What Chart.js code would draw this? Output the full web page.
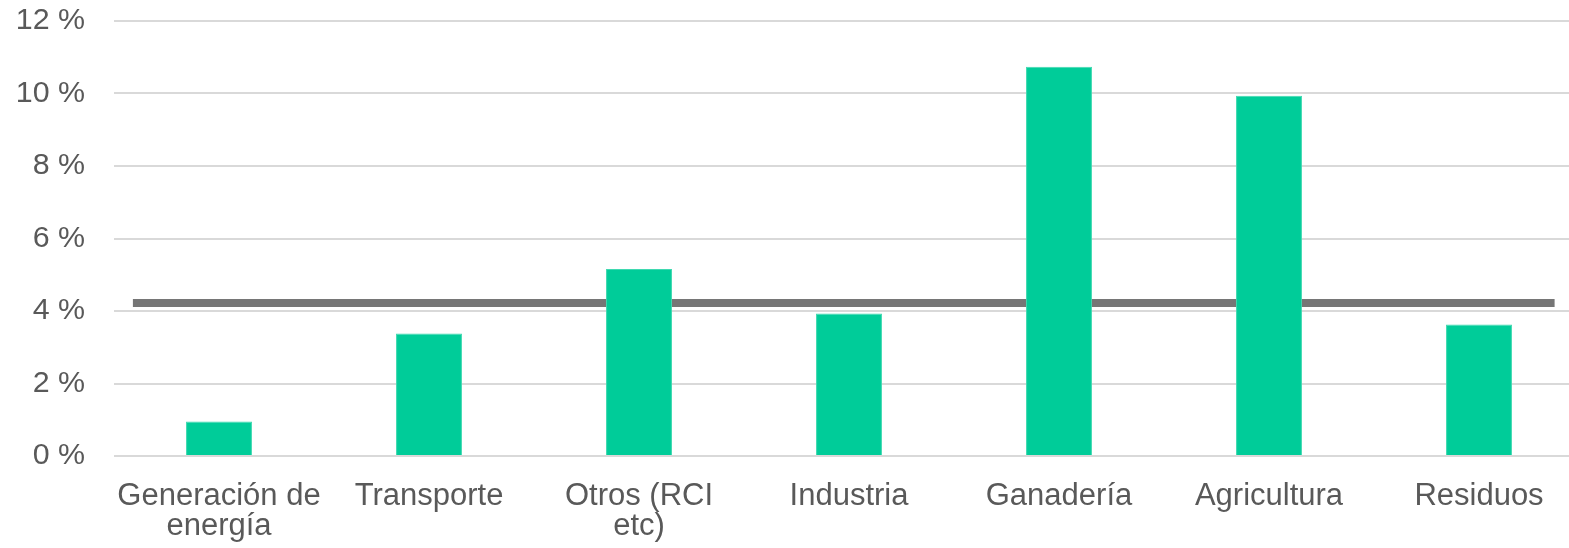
<!DOCTYPE html>
<html>
<head>
<meta charset="utf-8">
<script src="https://cdn.jsdelivr.net/npm/chart.js@4"></script>
<style>
    html, body { margin: 0; padding: 0; background: #fff; overflow: hidden; }
    #wrap { width: 1586px; height: 548px; position: relative; }
</style>
</head>
<body>
<div id="wrap"><canvas id="myChart"></canvas></div>
<script>
const categories = [
    ['Generación de', 'energía'],
    'Transporte',
    ['Otros (RCI', 'etc)'],
    'Industria',
    'Ganadería',
    'Agricultura',
    'Residuos'
];
const shares = [0.95, 3.38, 5.16, 3.93, 10.74, 9.94, 3.63];
const average = 4.22;
// the average line runs a little short of the plot edges (category units)
const averageSpan = [-0.41, 6.36];
const yTicks = [0, 2, 4, 6, 8, 10, 12];

const ctx = document.getElementById('myChart');
const textColor = '#595959';
const family = "'Liberation Sans', Arial, sans-serif";

new Chart(ctx, {
    type: 'bar',
    data: {
        labels: categories,
        datasets: [{
            type: 'bar',
            data: shares,
            backgroundColor: '#00cc99',
            borderColor: '#3fd9b0',
            borderWidth: 1,
            grouped: false,
            categoryPercentage: 1,
            barPercentage: 0.314,
            order: 0
        }, {
            type: 'line',
            xAxisID: 'x2',
            data: averageSpan.map(x => ({ x: x, y: average })),
            borderColor: '#767676',
            borderWidth: 8,
            borderCapStyle: 'butt',
            pointRadius: 0,
            order: 1
        }]
    },
    options: {
        responsive: true,
        maintainAspectRatio: false,
        animation: false,
        events: [],
        layout: {
            autoPadding: false,
            padding: { top: 21, left: 16, right: 2, bottom: 0 }
        },
        plugins: {
            legend: { display: false },
            tooltip: { enabled: false }
        },
        scales: {
            x: {
                type: 'category',
                offset: true,
                grid: { display: false, drawTicks: false },
                border: { display: false },
                ticks: {
                    color: textColor,
                    font: { family: family, size: 31, lineHeight: '30px' },
                    padding: 25,
                    maxRotation: 0,
                    autoSkip: false
                },
                afterFit: axis => { axis.height = 92; }
            },
            x2: {
                type: 'linear',
                position: 'top',
                offset: false,
                min: -0.5,
                max: 6.5,
                grid: { display: false, drawTicks: false, offset: false },
                border: { display: false },
                ticks: { display: false },
                afterFit: axis => { axis.height = 0; axis.paddingLeft = 0; axis.paddingRight = 0; }
            },
            y: {
                min: 0,
                max: 12,
                afterBuildTicks: axis => { axis.ticks = yTicks.map(v => ({ value: v })); },
                grid: { color: '#d9d9d9', lineWidth: 2, drawTicks: false },
                border: { display: false },
                ticks: {
                    color: textColor,
                    font: { family: family, size: 30.4 },
                    padding: 29,
                    callback: v => v + ' %'
                },
                afterFit: axis => {
                    axis.width = 98;
                    axis.paddingTop = 0;
                    axis.paddingBottom = 0;
                }
            }
        }
    }
});
</script>
</body>
</html>
